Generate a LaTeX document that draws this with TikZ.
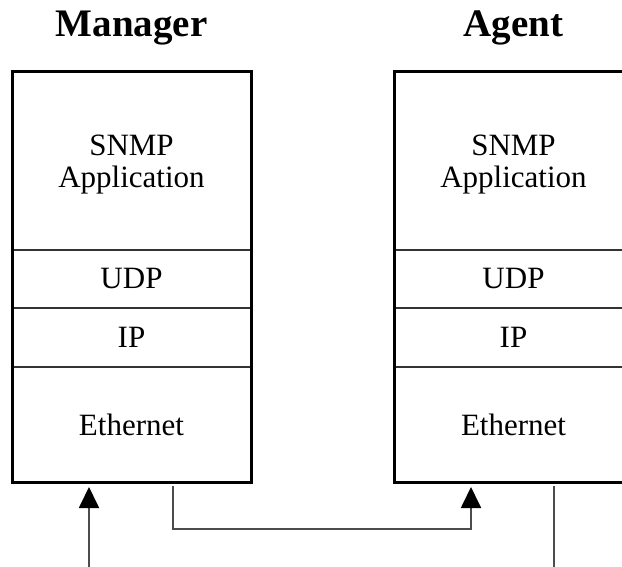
\documentclass[tikz,border=0pt]{standalone}
\usepackage{fontspec}
\setmainfont{Liberation Serif}
\usetikzlibrary{positioning,arrows.meta}
\tikzset{
  snlayer/.style={rectangle, draw=black!80, line width=1.6pt, minimum width=239pt,
                  inner sep=0pt, outer sep=0pt, align=center, font=\fontsize{31}{32}\selectfont},
  sntitle/.style={anchor=base, font=\fontsize{39}{40}\selectfont\bfseries},
  snframe/.style={draw=black, line width=3pt},
  snlink/.style={draw=black!70, line width=1.8pt},
  sntip/.style={-{Triangle[length=21pt,width=20pt,color=black]}},
}

\begin{document}
\begin{tikzpicture}[x=1pt,y=-1pt]
  \useasboundingbox (0,0) rectangle (622,567);
  % manager stack
  \node[sntitle] (MTitle) at (131.5,37) {Manager};
  \node[snlayer, minimum height=178pt, text depth=0pt] (MApp) at (131.5,161) {SNMP\\Application};
  \node[snlayer, minimum height=58pt, below=0pt of MApp] (MUdp) {UDP};
  \node[snlayer, minimum height=59pt, below=0pt of MUdp] (MIp) {IP};
  \node[snlayer, minimum height=115pt, below=0pt of MIp] (MEth) {Ethernet};
  \draw[snframe] (MApp.north west) rectangle (MEth.south east);
  % agent stack
  \node[sntitle] (ATitle) at (513.5,37) {Agent};
  \node[snlayer, minimum height=178pt, text depth=0pt] (AApp) at (513.5,161) {SNMP\\Application};
  \node[snlayer, minimum height=58pt, below=0pt of AApp] (AUdp) {UDP};
  \node[snlayer, minimum height=59pt, below=0pt of AUdp] (AIp) {IP};
  \node[snlayer, minimum height=115pt, below=0pt of AIp] (AEth) {Ethernet};
  \draw[snframe] (AApp.north west) rectangle (AEth.south east);
  % links
  \coordinate (MIn) at (89,567);
  \coordinate (AOut) at (554,567);
  \draw[snlink, sntip, shorten >=5pt] (MIn) -- ([xshift=77pt]MEth.south west);
  \draw[snlink, sntip, shorten <=4pt, shorten >=5pt]
    ([xshift=161pt]MEth.south west) -- ++(0,47) -| ([xshift=77pt]AEth.south west);
  \draw[snlink, shorten <=4pt] ([xshift=160pt]AEth.south west) -- (AOut);
\end{tikzpicture}
\end{document}
